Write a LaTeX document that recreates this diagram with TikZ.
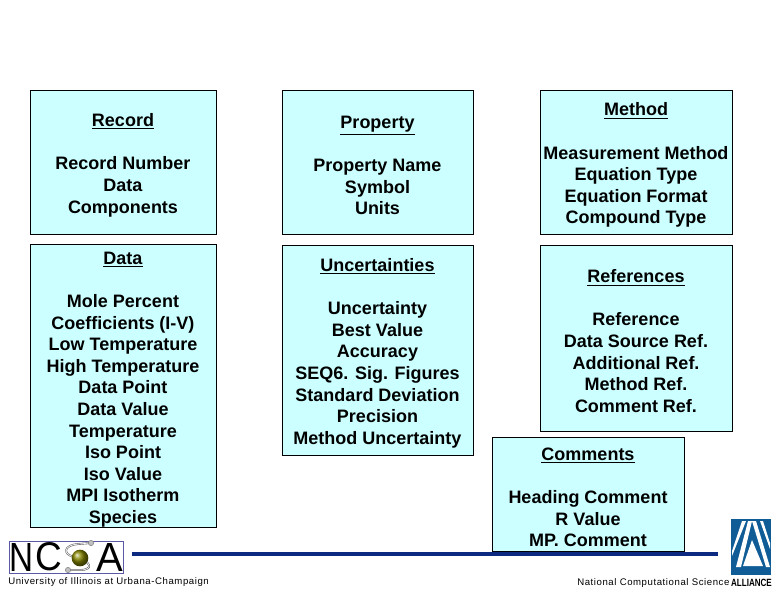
\documentclass[tikz,border=0pt]{standalone}
\usepackage{fontspec}
\setmainfont{Liberation Sans}
\newfontfamily\smallfont[LetterSpace=6]{Liberation Sans}
\usetikzlibrary{positioning}
\definecolor{tblfill}{HTML}{CCFFFF}
\definecolor{rulenavy}{HTML}{0B2A80}
\definecolor{allblue}{HTML}{0F5C96}
\newcommand{\hd}[1]{\rule{0pt}{14.5pt}\underline{#1}}
\begin{document}
\begin{tikzpicture}[x=0.75pt, y=-0.75pt,
  tbl/.style={draw, fill=tblfill, line width=0.75pt, inner sep=0pt, align=center,
              font=\fontsize{13.5}{16.2}\selectfont\bfseries},
  foot/.style={inner sep=0pt, anchor=west, font=\fontsize{7.2}{8}\smallfont},
  logoltr/.style={inner sep=0pt, font=\fontsize{30}{30}\selectfont},
  knob/.style={circle, fill=gray!50, draw=gray, line width=0.4pt, minimum size=4pt, inner sep=0pt}
]
  \useasboundingbox (0,0) rectangle (778,590);

  % Rule
  \coordinate (r1) at (132,554);
  \coordinate (r2) at (718,554);
  \draw[rulenavy, line width=2.4pt] (r1) -- (r2);

  % Left column
  \node[tbl, minimum width=139.5pt, minimum height=108pt] (rec) at (123,162)
    {\hd{Record}\\[16.2pt]Record Number\\Data\\Components};
  \node[tbl, minimum width=139.5pt, minimum height=211.5pt] (dat) at (123,386)
    {\hd{Data}\\[16.2pt]Mole Percent\\Coefficients (I-V)\\Low Temperature\\High Temperature\\Data Point\\Data Value\\Temperature\\Iso Point\\Iso Value\\MPI Isotherm\\Species};

  % Middle column
  \node[tbl, minimum width=143.25pt, minimum height=108pt] (prop) at (377.5,162)
    {\hd{Property}\\[16.2pt]Property Name\\Symbol\\Units};
  \node[tbl, minimum width=143.25pt, minimum height=157.5pt] (unc) at (377.5,350)
    {\hd{Uncertainties}\\[16.2pt]Uncertainty\\Best Value\\Accuracy\\SEQ6. Sig. Figures\\Standard Deviation\\Precision\\Method Uncertainty};

  % Right column
  \node[tbl, minimum width=144pt, minimum height=108pt] (meth) at (636,162)
    {\hd{Method}\\[16.2pt]Measurement Method\\Equation Type\\Equation Format\\Compound Type};
  \node[tbl, minimum width=144pt, minimum height=139.5pt] (refs) at (636,338)
    {\hd{References}\\[16.2pt]Reference\\Data Source Ref.\\Additional Ref.\\Method Ref.\\Comment Ref.};
  \node[tbl, minimum width=144pt, minimum height=85.5pt] (comm) at (588,494)
    {\hd{Comments}\\[16.2pt]Heading Comment\\R Value\\MP. Comment};

  % NCSA logo
  \node[draw=blue!30!gray, line width=0.4pt, minimum width=85.5pt, minimum height=24pt, inner sep=0pt] (ncsa) at (66,557) {};
  \node[logoltr] (ln) at (21.5,557) {\resizebox{18pt}{21pt}{N}};
  \node[logoltr] (lc) at (49,557) {\resizebox{20pt}{21pt}{C}};
  \node[logoltr] (la) at (109.5,557) {\resizebox{20pt}{21pt}{A}};
  \draw[gray!80!black, line width=1.4pt] (91,543) -- (78,544) .. controls (64,545) and (62,554) .. (74,557) .. controls (92,561) and (94,570) .. (80,570) -- (68,570);
  \draw[white, line width=0.5pt] (91,543) -- (78,544) .. controls (64,545) and (62,554) .. (74,557) .. controls (92,561) and (94,570) .. (80,570) -- (68,570);
  \node[circle, ball color=olive!55!gray, minimum size=12.5pt, inner sep=0pt] (globe) at (80,558) {};
  \node[knob] (k1) at (91,543) {};
  \node[knob] (k2) at (68,570) {};
  \node[foot] (uiuc) at (8,582) {University of Illinois at Urbana-Champaign};

  % Alliance logo
  \node[fill=allblue, minimum width=30pt, minimum height=42pt, inner sep=0pt] (alog) at (751,547) {};
  \fill[white] (742,521) -- (746,521) -- (732,556) -- (732,551) -- cycle;
  \fill[white] (748,521) -- (752,521) -- (741,567) -- (736,567) -- cycle;
  \fill[white] (752,521) -- (756,521) -- (770,567) -- (766,567) -- cycle;
  \fill[white] (760,521) -- (763,521) -- (770,543) -- (770,549) -- cycle;
  \fill[white] (752,540) -- (763,566) -- (743,566) -- cycle;
  \node[foot] (ncs) at (577,583.5) {National Computational Science};
  \node[inner sep=0pt, font=\fontsize{7}{8}\selectfont\bfseries] (allt) at (751.5,583) {\resizebox{30.5pt}{5.5pt}{ALLIANCE}};
\end{tikzpicture}
\end{document}
